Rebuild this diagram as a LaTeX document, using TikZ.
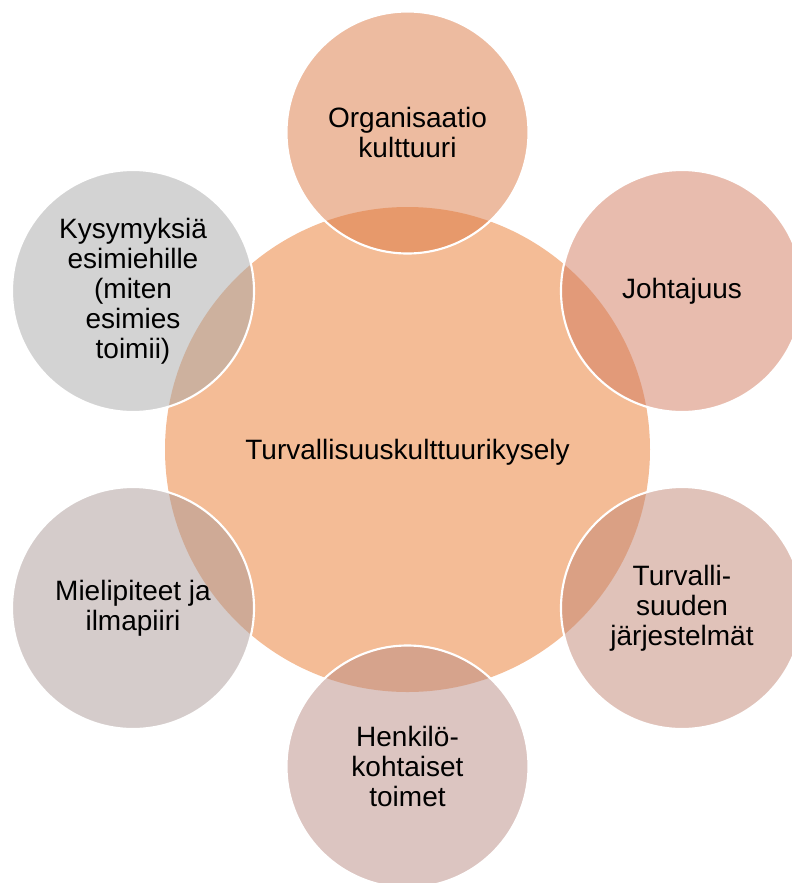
\documentclass[tikz,border=0pt]{standalone}
\usepackage{fontspec}
\setmainfont{Liberation Sans}
\definecolor{centerc}{RGB}{244,188,150}
\definecolor{c1}{RGB}{219,119,65}
\definecolor{c2}{RGB}{209,121,93}
\definecolor{c3}{RGB}{193,133,115}
\definecolor{c4}{RGB}{185,139,131}
\definecolor{c5}{RGB}{171,153,151}
\definecolor{c6}{RGB}{167,167,167}
\tikzset{
  hub/.style={circle, minimum size=363.75pt, inner sep=0pt, fill=centerc, draw=none,
    font=\fontsize{21}{22}\selectfont, align=center},
  sat/.style={circle, minimum size=181.5pt, inner sep=0pt, fill=#1, fill opacity=0.5,
    text opacity=1, draw=white, draw opacity=1, line width=1.6pt,
    font=\fontsize{21}{22.5}\selectfont, align=center, text=black},
}
\begin{document}
\begin{tikzpicture}[x=0.75pt, y=-0.75pt]
\clip (0,0) rectangle (792,883);
\useasboundingbox (0,0) rectangle (792,883);
\node[hub] (center) at (407.5,449.5) {};
\node[sat=c1] (org) at (407.5,132.5) {Organisaatio\\kulttuuri};
\node[sat=c2] (joh) at (682,291) {Johtajuus};
\node[sat=c3] (jar) at (682,608) {Turvalli-\\suuden\\järjestelmät};
\node[sat=c4] (hen) at (407.5,766.5) {Henkilö-\\kohtaiset\\toimet};
\node[sat=c5] (mie) at (133,608) {Mielipiteet ja\\ilmapiiri};
\node[sat=c6] (kys) at (133,291) {Kysymyksiä\\esimiehille\\(miten\\esimies\\toimii)};
\node[font=\fontsize{21}{22}\selectfont] (centertext) at ([yshift=-2pt]center) {Turvallisuuskulttuurikysely};
\end{tikzpicture}
\end{document}
